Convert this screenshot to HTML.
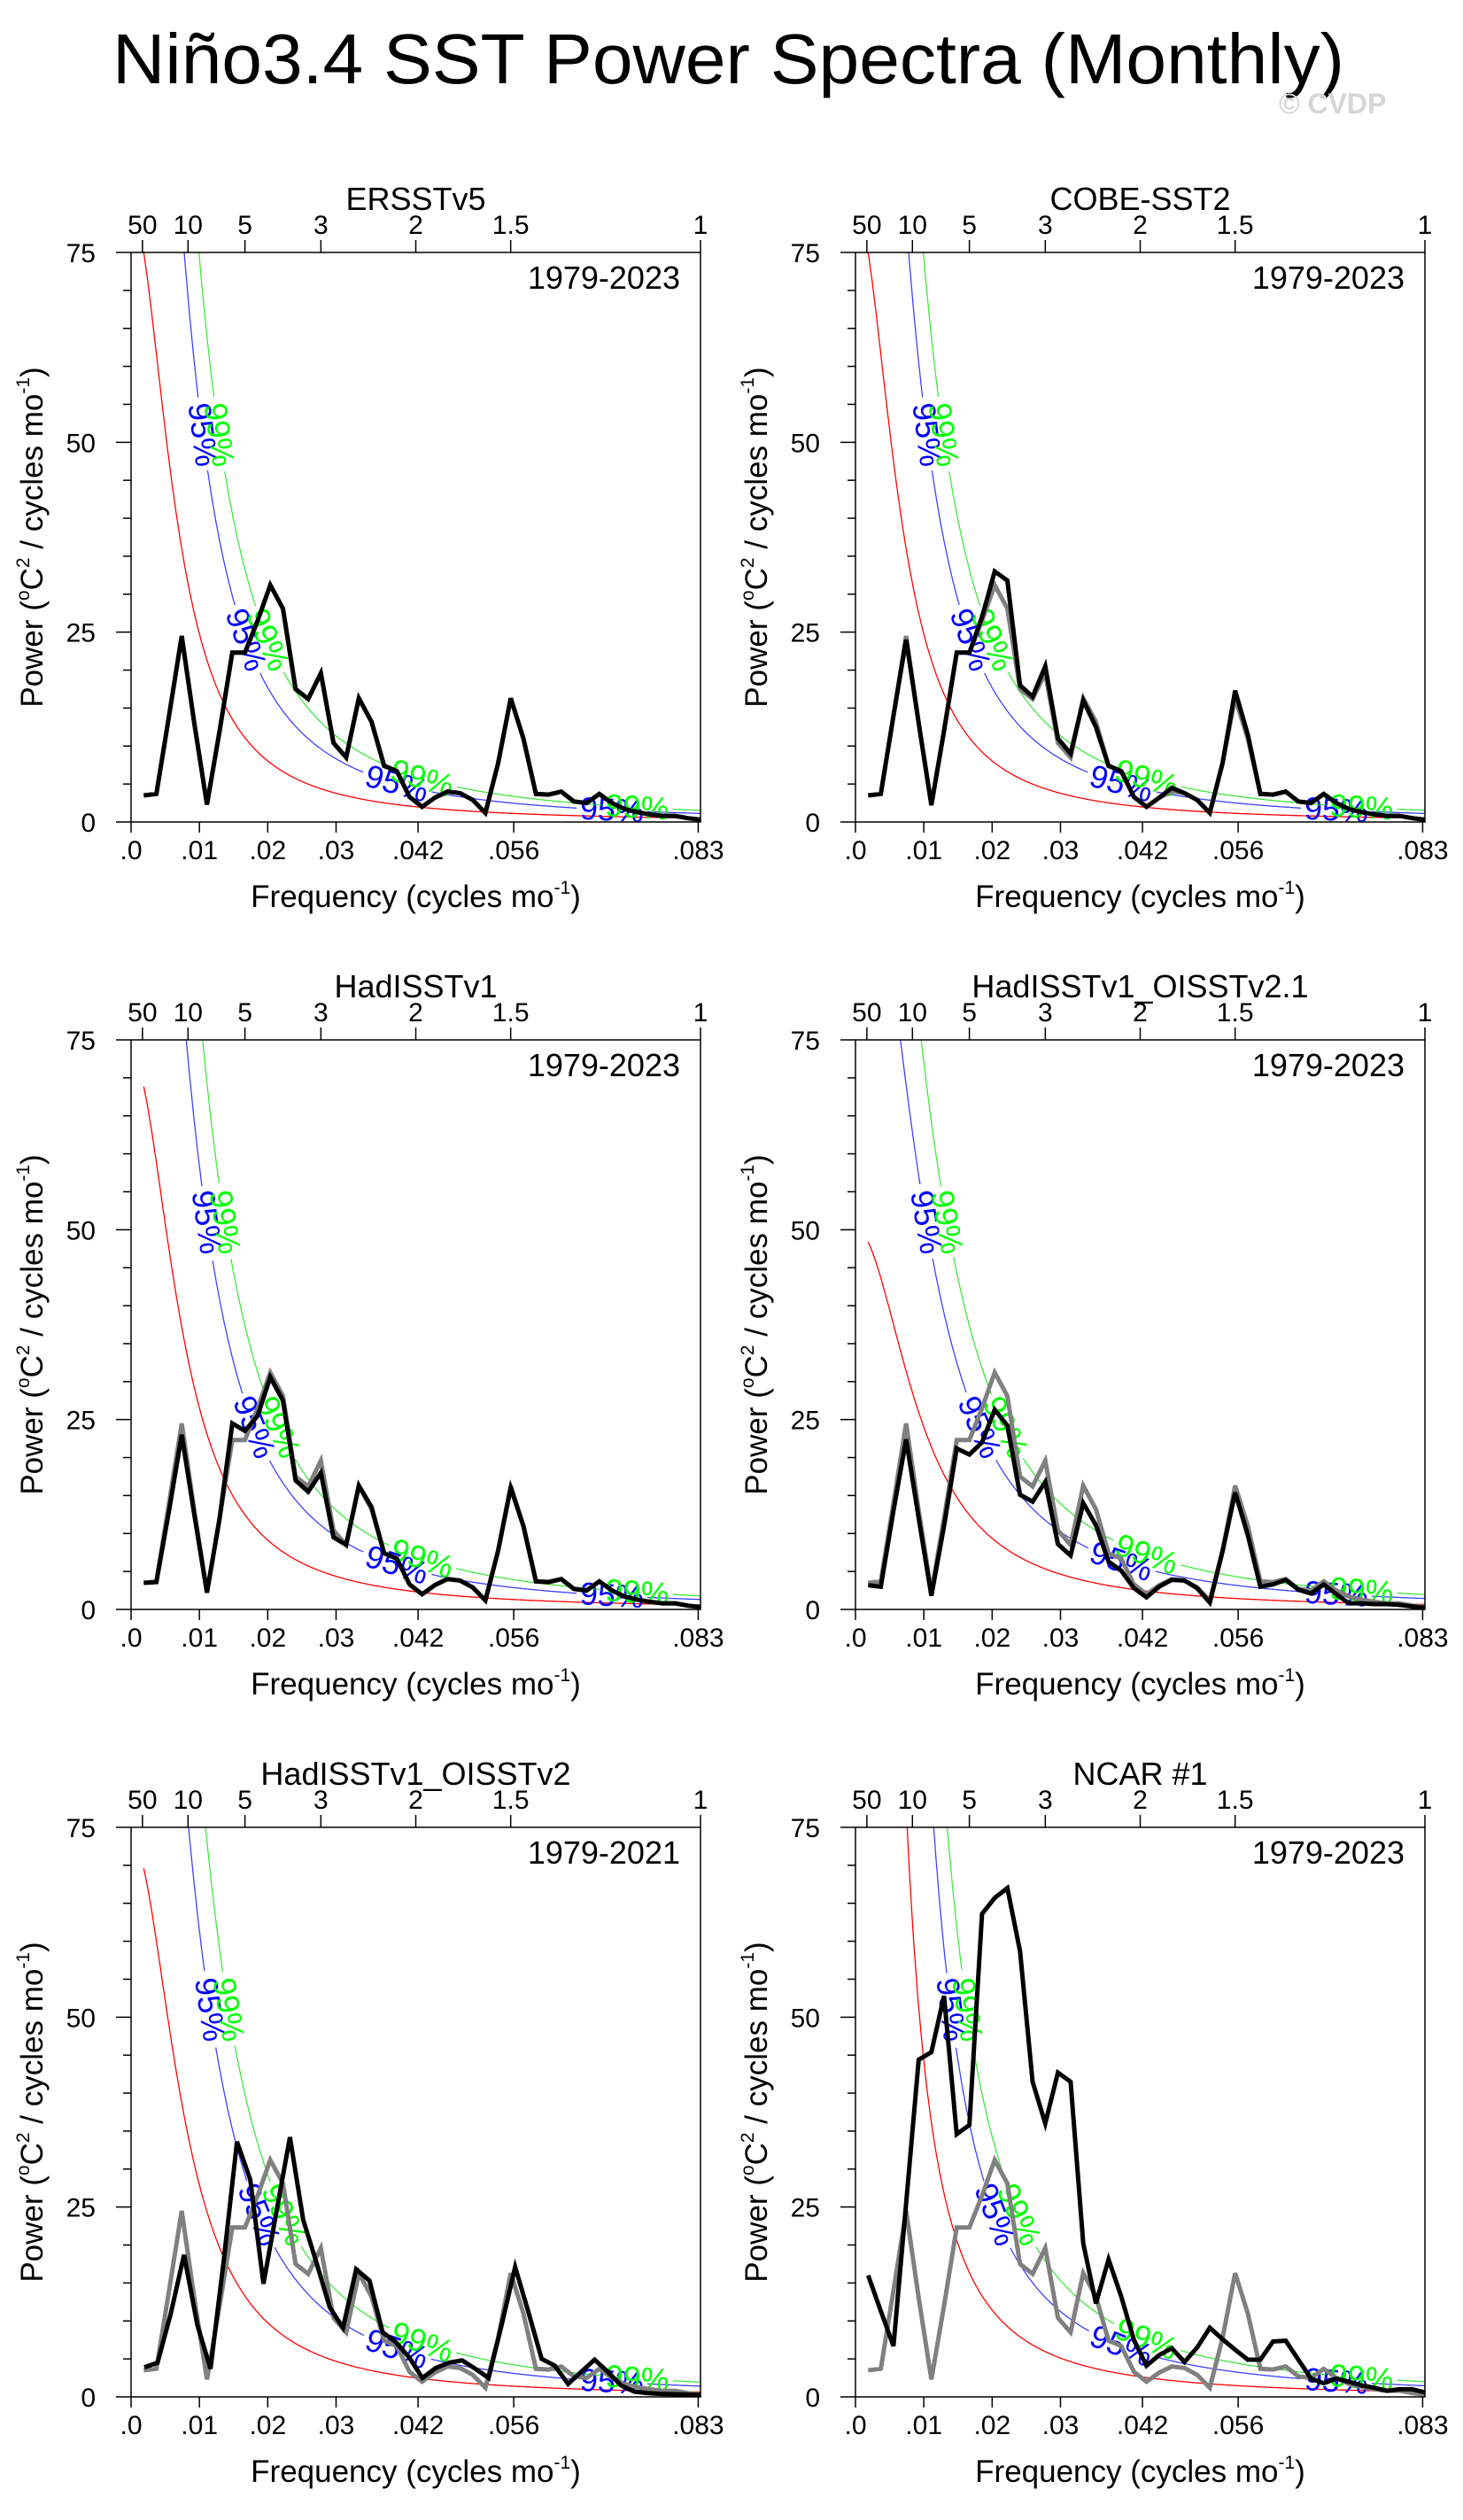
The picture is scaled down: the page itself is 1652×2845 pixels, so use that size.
<!DOCTYPE html>
<html><head><meta charset="utf-8"><title>Niño3.4 SST Power Spectra</title>
<style>
html,body{margin:0;padding:0;background:#fff;}
svg{display:block;font-family:"Liberation Sans",Arial,sans-serif;}
</style></head>
<body>
<svg id="fig" xmlns="http://www.w3.org/2000/svg" width="1652" height="2845" viewBox="0 0 1652 2845">
<rect width="1652" height="2845" fill="#fff"/>
<text x="127" y="94" font-size="80" textLength="1391" lengthAdjust="spacingAndGlyphs">Niño3.4 SST Power Spectra (Monthly)</text>
<text x="1444" y="128" font-size="32" font-weight="bold" fill="#d6d6d6">© CVDP</text>
<g id="panels"></g>
</svg>
<script>
// ---- data ----
const harmonics45 = [1,2,3,4,5,6,7,8,9,10,11,12,13,14,15,16,17,18,19,20,21,22,23,24,25,26,27,28,29,30,31,32,33,34,35,36,37,38,39,40,41,42,43,44,45];
const harmonics43 = [1,2,3,4,5,6,7,8,9,10,11,12,13,14,15,16,17,18,19,20,21,22,23,24,25,26,27,28,29,30,31,32,33,34,35,36,37,38,39,40,41,42,43];
const recordMonths = [540,540,540,540,516,540];
const ersst   = [3.5,3.7,14,24.5,13,2.3,12,22.3,22.3,26.5,31.2,28.1,17.5,16.2,19.6,10.4,8.5,16.3,13.2,7.4,6.7,3.3,2.0,3.2,4.0,3.8,2.9,1.2,7.7,16.3,11.0,3.7,3.6,4.0,2.7,2.5,3.7,2.5,1.7,1.3,1.0,0.8,0.8,0.5,0.3];
const cobe    = [3.5,3.7,14,24,13,2.2,12,22.3,22.3,27,33,31.8,18,16.5,20.5,11,9,16,12.5,7.4,6.7,3.3,2.0,3.2,4.5,3.8,2.9,1.2,7.7,17.3,11.5,3.7,3.6,4.0,2.7,2.5,3.7,2.5,1.7,1.3,1.0,0.8,0.8,0.5,0.3];
const hadisst = [3.5,3.6,13,23,12.5,2.2,12,24.5,23.5,25.5,30.6,27.5,17,15.5,18,9.5,8.5,16.3,13.5,7.4,6.7,3.3,2.0,3.2,4.0,3.8,2.9,1.2,7.7,16,11.0,3.7,3.6,4.0,2.7,2.5,3.7,2.5,1.7,1.3,1.0,0.8,0.8,0.5,0.3];
const hadOi21 = [3.2,3.0,13,22.4,12,1.8,11,21.2,20.4,22.0,26.3,24.2,15.1,14.2,16.8,8.6,7.1,14.0,11.1,6.3,5.1,2.8,1.6,3.0,3.9,3.8,2.8,0.9,7.6,15.4,9.8,3.0,3.3,3.9,2.6,2.1,3.3,2.0,0.8,0.8,0.7,0.7,0.6,0.4,0.2];
const hadOi2  = [3.9,4.5,11,18.7,9.5,3.7,18,33.6,28.6,14.9,24.6,34.2,23.3,17.7,11.8,9.1,16.8,15.3,8.5,7.2,5.2,2.5,3.8,4.5,4.8,3.7,2.5,9.6,17.1,11.2,5.0,4.1,1.7,3.3,4.9,3.3,1.5,0.7,0.5,0.4,0.35,0.3,0.25];
const ncar1   = [16,11.3,6.7,25.5,44.4,45.4,52.8,34.6,35.8,63.6,65.7,67,58.7,41.5,36,42.7,41.5,20.2,12.3,18.1,13.2,7.5,4.1,5.5,6.4,4.6,6.5,9.1,7.6,6.2,4.9,4.9,7.3,7.4,4.9,2.4,1.8,2.4,2.0,1.5,1.2,0.8,1.0,1.0,0.6];
const panelTitles = ["ERSSTv5","COBE-SST2","HadISSTv1","HadISSTv1_OISSTv2.1","HadISSTv1_OISSTv2","NCAR #1"];
const panelYears  = ["1979-2023","1979-2023","1979-2023","1979-2023","1979-2021","1979-2023"];
const panelSeries = [ersst,cobe,hadisst,hadOi21,hadOi2,ncar1];
const panelHarmonics = [harmonics45,harmonics45,harmonics45,harmonics45,harmonics43,harmonics45];
const redAmp = [80.8,80.8,73,50.2,73.5,1047];
const redU   = [0.0776,0.0776,0.06,0.0374,0.056,0.777];
const sigMult = [2.2,3.0];
const sigLevels = [51,24];
const lowLabelK95 = [21,38];
const lowLabelK99 = [23,40];
const yTicks = [0,25,50,75];
const xTickVals = [0,0.01,0.02,0.03,0.042,0.056,0.083];
const xTickLabels = [".0",".01",".02",".03",".042",".056",".083"];
const periodVals = [50,10,5,3,2,1.5,1];
const periodLabels = ["50","10","5","3","2","1.5","1"];

// ---- layout ----
const NS="http://www.w3.org/2000/svg";
const colX=[148,966], rowY=[285,1174,2063], W=643, H=643, FMAX=1/12, YMAX=75, NREF=540;
const root=document.getElementById('panels');
function mk(tag,attrs,parent){const e=document.createElementNS(NS,tag);for(const k in attrs)e.setAttribute(k,attrs[k]);(parent||root).appendChild(e);return e;}

panelTitles.forEach((title,p)=>{
  const x0=colX[p%2], y0=rowY[Math.floor(p/2)];
  const xs=f=>x0+f/FMAX*W;
  const ys=v=>y0+H-v/YMAX*H;
  const g=mk('g',{});
  
  
  const cp=mk('clipPath',{id:'clip'+p},g);
  mk('rect',{x:x0,y:y0,width:W,height:H},cp);

  const t=mk('text',{x:x0+W/2,y:y0-48,'font-size':36,'text-anchor':'middle'},g);
  t.textContent=title;
  
  

  for(let v=0;v<=75;v+=5){
    const major=yTicks.includes(v);
    const tk=mk('line',{x1:x0-(major?17:9),x2:x0,y1:ys(v),y2:ys(v),stroke:'#000','stroke-width':1.5},g);
    
    
  }
  yTicks.forEach(v=>{
    const l=mk('text',{x:x0-40,y:ys(v)+11,'font-size':30,'text-anchor':'end'},g);
    l.textContent=v;
    
    
  });
  xTickVals.forEach((f,i)=>{
    const tk=mk('line',{x1:xs(f),x2:xs(f),y1:y0+H,y2:y0+H+12,stroke:'#000','stroke-width':1.5},g);
    
    
    const l=mk('text',{x:xs(f),y:y0+H+42,'font-size':30,'text-anchor':'middle'},g);
    l.textContent=xTickLabels[i];
    
    
  });
  periodVals.forEach((P,i)=>{
    const f=1/(12*P);
    const tk=mk('line',{x1:xs(f),x2:xs(f),y1:y0,y2:y0-14,stroke:'#000','stroke-width':1.5},g);
    
    
    const l=mk('text',{x:xs(f),y:y0-21,'font-size':30,'text-anchor':'middle'},g);
    l.textContent=periodLabels[i];
    
    
  });
  const xt=mk('text',{x:x0+W/2,y:y0+H+96,'font-size':35,'text-anchor':'middle'},g);
  xt.innerHTML='Frequency (cycles mo<tspan font-size="21" dy="-15">-1</tspan><tspan dy="15">)</tspan>';
  
  
  const ytx=x0-100, yty=y0+H/2;
  const yt=mk('text',{x:ytx,y:yty,'font-size':35,'text-anchor':'middle',transform:`rotate(-90 ${ytx} ${yty})`},g);
  yt.innerHTML='Power (<tspan font-size="21" dy="-15">o</tspan><tspan dy="15">C</tspan><tspan font-size="21" dy="-15">2</tspan><tspan dy="15"> / cycles mo</tspan><tspan font-size="21" dy="-15">-1</tspan><tspan dy="15">)</tspan>';
  
  

  const yr=mk('text',{x:x0+W-23,y:y0+41,'font-size':36,'text-anchor':'end'},g);
  yr.textContent=panelYears[p];
  
  

  // noise curves
  const A=redAmp[p], u=redU[p];
  const curveVal=(k,m)=>m*A/(1+u*k*k);
  const curveColors=['#ff0000','#0000ff','#00e000'];
  const labelColors=[null,'#0000ff','#00ff00'];
  const mults=[1,sigMult[0],sigMult[1]];
  const names=['red-noise-curve','confidence-95-curve','confidence-99-curve'];
  const labelTexts=[null,'95%','99%'];
  mults.forEach((m,ci)=>{
    const labels=[];
    if(ci>0){
      const ks=[];
      sigLevels.forEach(L=>{ks.push(Math.sqrt((m*A/L-1)/u));});
      (ci===1?lowLabelK95:lowLabelK99).forEach(k=>ks.push(k));
      ks.forEach(k=>{
        if(!(k>=1&&k<=45))return;
        const L=curveVal(k,m);
        const px=xs(k/NREF), py=ys(L);
        const k2=k+0.05;
        const ang=Math.atan2(ys(curveVal(k2,m))-py, xs(k2/NREF)-px)*180/Math.PI;
        labels.push({px,py,ang});
      });
    }
    let segs=[],cur=[];
    for(let k=1;k<=45.001;k+=0.05){
      const px=xs(k/NREF), py=ys(curveVal(k,m));
      const hidden=labels.some(l=>Math.hypot(px-l.px,py-l.py)<40);
      if(hidden){if(cur.length>1)segs.push(cur);cur=[];}
      else cur.push(px.toFixed(1)+','+py.toFixed(1));
    }
    if(cur.length>1)segs.push(cur);
    segs.forEach(s=>{
      const pl=mk('polyline',{points:s.join(' '),fill:'none',stroke:curveColors[ci],'stroke-width':1.3,'clip-path':`url(#clip${p})`,opacity:ci>0?0.75:1},g);
      
      
    });
    labels.forEach(l=>{
      const tx=mk('text',{x:l.px,y:l.py+12,'font-size':36,'text-anchor':'middle',fill:labelColors[ci],transform:`rotate(${l.ang.toFixed(1)} ${l.px.toFixed(1)} ${l.py.toFixed(1)})`},g);
      tx.textContent=labelTexts[ci];
      
      
    });
  });

  // spectra
  const path=(arr,harm,N)=>arr.map((v,i)=>xs(harm[i]/N).toFixed(1)+','+ys(v).toFixed(1)).join(' ');
  const gl=mk('polyline',{points:path(ersst,harmonics45,NREF),fill:'none',stroke:'#808080','stroke-width':5,'clip-path':`url(#clip${p})`},g);
  
  
  const bl=mk('polyline',{points:path(panelSeries[p],panelHarmonics[p],recordMonths[p]),fill:'none',stroke:'#000','stroke-width':5,'clip-path':`url(#clip${p})`},g);
  
  

  const fr=mk('rect',{x:x0,y:y0,width:W,height:H,fill:'none',stroke:'#000','stroke-width':1.5},g);
  
  
});
</script>
</body></html>
